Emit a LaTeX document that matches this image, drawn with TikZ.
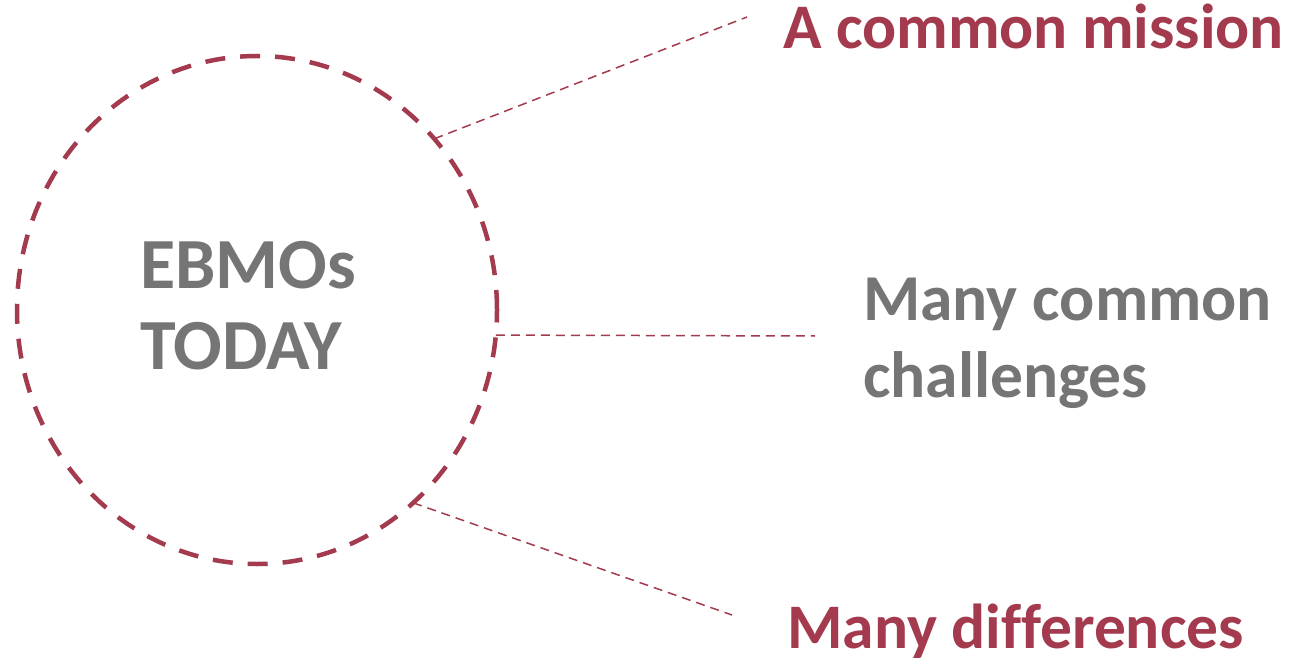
\documentclass[tikz,border=0pt]{standalone}
\usepackage{fontspec}
\setmainfont[Ligatures=NoCommon]{Carlito}
\usetikzlibrary{shapes.geometric}
\definecolor{ebmored}{RGB}{163,58,78}
\definecolor{ebmogray}{RGB}{117,117,117}
\tikzset{
  rim/.style={ellipse,draw=ebmored,line width=4.5pt,dash pattern=on 20pt off 15pt,inner sep=0pt,outer sep=0pt},
  link/.style={draw=ebmored,line width=1.5pt,dash pattern=on 9pt off 6pt},
  redlabel/.style={anchor=base west,inner sep=0pt,text=ebmored,font=\fontsize{63.5}{76}\selectfont\bfseries},
  graylabel/.style={anchor=base west,inner sep=0pt,text=ebmogray,align=left}
}
\begin{document}
\begin{tikzpicture}[x=1pt,y=-1pt]
  \useasboundingbox (0,0) rectangle (1293,663);
  %% Circle and title
  \node[rim,minimum width=480pt,minimum height=508pt] (circ) at (257,310) {};
  \node[graylabel,font=\fontsize{72}{81}\selectfont\bfseries] (title) at (140,369) {EBMOs\\TODAY};
  %% Labels
  \node[redlabel] (mission) at (783,49) {A common mission};
  \node[graylabel,font=\fontsize{65.5}{77}\selectfont\bfseries] (challenges) at (863,397) {Many common\\challenges};
  \node[redlabel] (differences) at (787,648) {Many differences};
  %% Links
  \coordinate (missionend) at (747,17);
  \coordinate (challengesend) at (815,336);
  \coordinate (differencesend) at (732,615);
  \draw[link] (circ.44.5) -- (missionend);
  \draw[link] (circ.-6.2) -- (challengesend);
  \draw[link] (circ.-51.8) -- (differencesend);
\end{tikzpicture}
\end{document}
